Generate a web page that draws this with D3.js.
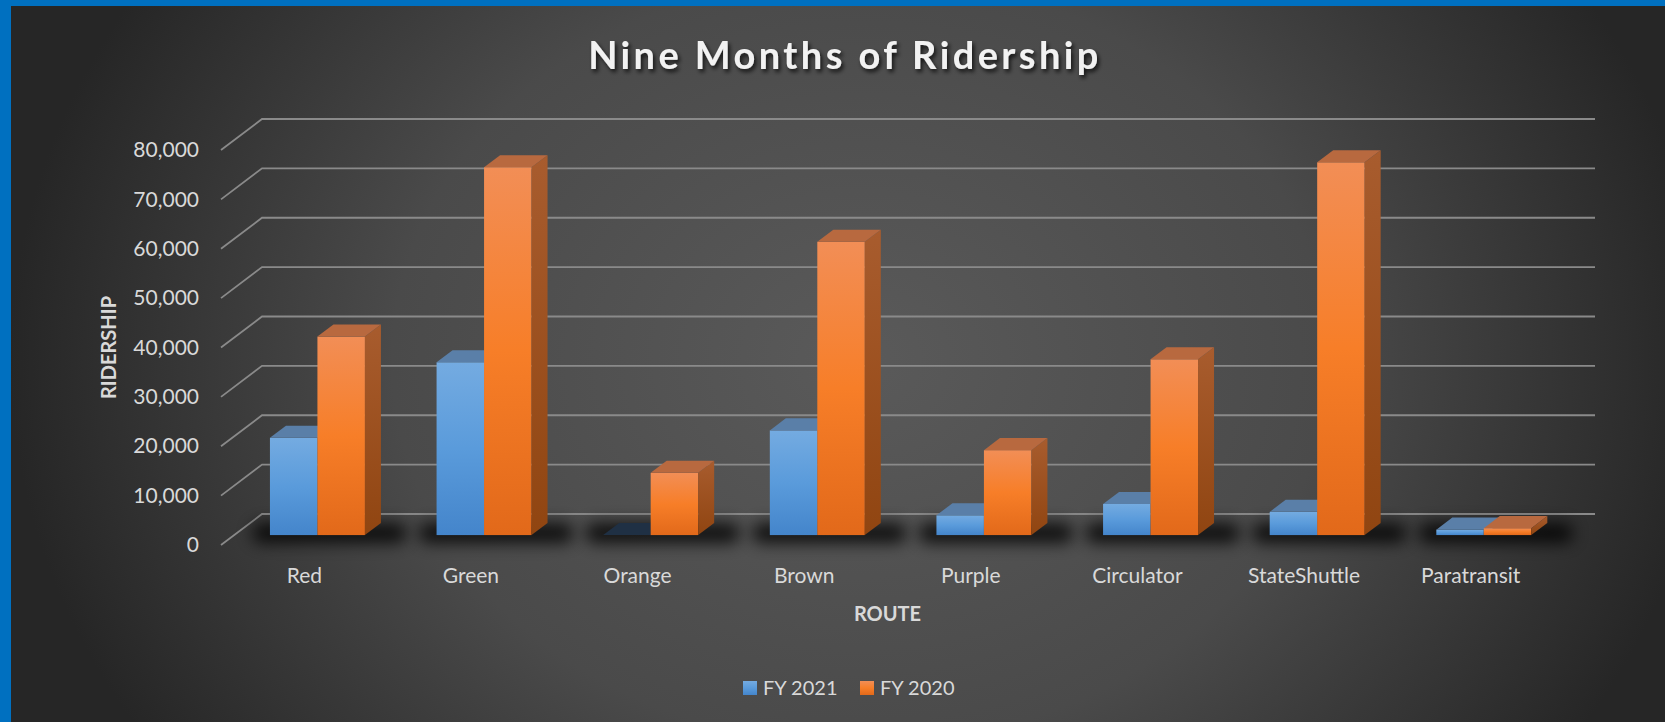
<!DOCTYPE html>
<html>
<head>
<meta charset="utf-8">
<script src="https://cdn.jsdelivr.net/npm/d3@7"></script>
<style>
  body { margin: 0; background: #0070c0; }
  svg { display: block; }
</style>
</head>
<body>
<div id="wrapper"></div>
<script>
// data
const routes = ["Red", "Green", "Orange", "Brown", "Purple", "Circulator", "StateShuttle", "Paratransit"]
const seriesNames = ["FY 2021", "FY 2020"]
const fy2021 = [19700, 35000, 0, 21200, 4000, 6300, 4700, 1100]
const fy2020 = [40200, 74500, 12600, 59400, 17200, 35600, 75500, 1400]
const yTicks = [0, 10000, 20000, 30000, 40000, 50000, 60000, 70000, 80000]

function drawChart() {

  // 1. dimensions
  const dimensions = {
    width: 1665,
    height: 722,
    front: { left: 221, right: 1554, bottom: 545, top: 150 },
    depth: { x: 41, y: -31 },   // front of floor -> back wall
  }
  const barDepthStart = 0.32
  const barDepth = 0.39
  const fontFamily = "Lato, 'Open Sans', sans-serif"
  const textColor = "#d9d9d9"

  // 2. canvas
  const wrapper = d3.select("#wrapper")
    .append("svg")
      .attr("width", dimensions.width)
      .attr("height", dimensions.height)

  const defs = wrapper.append("defs")

  const bg = defs.append("radialGradient")
      .attr("id", "bg")
      .attr("gradientUnits", "userSpaceOnUse")
      .attr("cx", 0).attr("cy", 0).attr("r", 1)
      .attr("gradientTransform", "translate(860,360) scale(850,700)")
  bg.append("stop").attr("offset", 0).attr("stop-color", "#5a5a5a")
  bg.append("stop").attr("offset", 0.55).attr("stop-color", "#4a4a4a")
  bg.append("stop").attr("offset", 1).attr("stop-color", "#262626")

  const addGradient = (id, stops) => {
    const g = defs.append("linearGradient")
        .attr("id", id)
        .attr("x1", 0).attr("y1", 0).attr("x2", 0).attr("y2", 1)
    stops.forEach(([o, c]) => g.append("stop").attr("offset", o).attr("stop-color", c))
  }
  addGradient("blueFront", [[0, "#74abe1"], [0.5, "#5a9bdb"], [1, "#4485cb"]])
  addGradient("orangeFront", [[0, "#f28e56"], [0.5, "#f77e28"], [1, "#e2691a"]])
  addGradient("orangeSide", [[0, "#a85c2e"], [1, "#904511"]])
  addGradient("blueSide", [[0, "#4f7fb3"], [1, "#3a6a9e"]])

  const shadowFilter = defs.append("filter")
      .attr("id", "floorShadow")
      .attr("x", "-50%").attr("y", "-150%").attr("width", "200%").attr("height", "400%")
  shadowFilter.append("feGaussianBlur").attr("stdDeviation", 8)

  const titleShadow = defs.append("filter").attr("id", "titleShadow")
  titleShadow.append("feDropShadow")
      .attr("dx", 2).attr("dy", 3).attr("stdDeviation", 2)
      .attr("flood-color", "#000").attr("flood-opacity", 0.75)

  wrapper.append("rect")
      .attr("x", 11).attr("y", 6)
      .attr("width", dimensions.width - 11)
      .attr("height", dimensions.height - 6)
      .attr("fill", "url(#bg)")

  // 3. scales
  const yScale = d3.scaleLinear()
    .domain([0, 80000])
    .range([dimensions.front.bottom, dimensions.front.top])

  const xScale = d3.scaleBand()
    .domain(routes)
    .range([dimensions.front.left, dimensions.front.right])

  const bw = xScale.bandwidth()
  const barW = bw * 0.285
  const seriesScale = d3.scaleBand()
    .domain(seriesNames)
    .range([bw / 2 - barW, bw / 2 + barW])

  const dx = dimensions.depth.x
  const dy = dimensions.depth.y

  // 4. gridlines (side wall + back wall)
  const grid = wrapper.append("g")
      .attr("fill", "none")
      .attr("stroke", "#8a8a8a")
      .attr("stroke-width", 1.8)

  grid.selectAll("path")
    .data(yTicks)
    .enter().append("path")
      .attr("d", d => `M${dimensions.front.left},${yScale(d)}`
        + `L${dimensions.front.left + dx},${yScale(d) + dy}`
        + `L${dimensions.front.right + dx},${yScale(d) + dy}`)

  // 5. bars
  const table = routes.map((r, i) => ({
    route: r,
    values: [
      { series: seriesNames[0], value: fy2021[i] },
      { series: seriesNames[1], value: fy2020[i] },
    ],
  }))

  const offX = dx * barDepthStart
  const offY = dy * barDepthStart
  const bdx = dx * barDepth
  const bdy = dy * barDepth

  const groups = wrapper.selectAll(".route")
    .data(table)
    .enter().append("g")
      .attr("class", "route")

  // floor shadow
  groups.append("rect")
      .attr("x", d => xScale(d.route) + offX + seriesScale(seriesNames[0]) - 18)
      .attr("y", yScale(0) + offY - 12)
      .attr("width", 2 * barW + bdx + 44)
      .attr("height", 20)
      .attr("rx", 10)
      .attr("fill", "#000")
      .attr("opacity", 0.8)
      .attr("filter", "url(#floorShadow)")

  const bars = groups.selectAll(".bar")
    .data(d => d.values.map(v => ({ ...v, route: d.route })))
    .enter().append("g")
      .attr("class", "bar")

  const x0 = d => xScale(d.route) + offX + seriesScale(d.series)
  const yTop = d => yScale(d.value) + offY
  const yBot = yScale(0) + offY
  const isBlue = d => d.series === seriesNames[0]

  bars.append("rect")
      .attr("x", x0)
      .attr("y", yTop)
      .attr("width", barW)
      .attr("height", d => yBot - yTop(d))
      .attr("fill", d => isBlue(d) ? "url(#blueFront)" : "url(#orangeFront)")

  bars.append("path")
      .attr("d", d => `M${x0(d) + barW},${yTop(d)}`
        + `L${x0(d) + barW + bdx},${yTop(d) + bdy}`
        + `L${x0(d) + barW + bdx},${yBot + bdy}`
        + `L${x0(d) + barW},${yBot}Z`)
      .attr("fill", d => isBlue(d) ? "url(#blueSide)" : "url(#orangeSide)")

  bars.append("path")
      .attr("d", d => `M${x0(d)},${yTop(d)}`
        + `L${x0(d) + bdx},${yTop(d) + bdy}`
        + `L${x0(d) + barW + bdx},${yTop(d) + bdy}`
        + `L${x0(d) + barW},${yTop(d)}Z`)
      .attr("fill", d => isBlue(d) ? (d.value === 0 ? "#1f3044" : "#5a7fa8") : "#b8693f")

  // 6. peripherals
  const yAxis = wrapper.append("g")
      .attr("transform", `translate(${dimensions.front.left},0)`)
    .call(d3.axisLeft(yScale).tickValues(yTicks).tickSize(0).tickPadding(22).tickFormat(d3.format(",")))
  yAxis.select(".domain").remove()
  yAxis.selectAll("text")
      .attr("font-family", fontFamily)
      .attr("font-size", 21)
      .attr("fill", textColor)

  const xAxis = wrapper.append("g")
      .attr("transform", `translate(0,${dimensions.front.bottom})`)
    .call(d3.axisBottom(xScale).tickSize(0).tickPadding(23))
  xAxis.select(".domain").remove()
  xAxis.selectAll("text")
      .attr("font-family", fontFamily)
      .attr("font-size", 21)
      .attr("fill", textColor)

  wrapper.append("text")
      .attr("x", (dimensions.front.left + dimensions.front.right) / 2)
      .attr("y", 621)
      .attr("text-anchor", "middle")
      .attr("font-family", fontFamily)
      .attr("font-weight", "bold")
      .attr("font-size", 20)
      .attr("fill", textColor)
      .text("ROUTE")

  wrapper.append("text")
      .attr("transform", `translate(116,${(yScale(0) + yScale(80000)) / 2}) rotate(-90)`)
      .attr("text-anchor", "middle")
      .attr("font-family", fontFamily)
      .attr("font-weight", "bold")
      .attr("font-size", 20)
      .attr("fill", textColor)
      .text("RIDERSHIP")

  wrapper.append("text")
      .attr("x", 845)
      .attr("y", 69)
      .attr("text-anchor", "middle")
      .attr("font-family", fontFamily)
      .attr("font-weight", "bold")
      .attr("font-size", 38)
      .attr("letter-spacing", 3.4)
      .attr("fill", "#f2f2f2")
      .attr("filter", "url(#titleShadow)")
      .text("Nine Months of Ridership")

  // legend
  const legendX = [743, 860]
  const legend = wrapper.selectAll(".legend")
    .data(seriesNames)
    .enter().append("g")
      .attr("class", "legend")
      .attr("transform", (d, i) => `translate(${legendX[i]},681)`)
  legend.append("rect")
      .attr("width", 14)
      .attr("height", 14)
      .attr("fill", (d, i) => i === 0 ? "url(#blueFront)" : "url(#orangeFront)")
  legend.append("text")
      .attr("x", 20)
      .attr("y", 14)
      .attr("font-family", fontFamily)
      .attr("font-size", 20)
      .attr("fill", textColor)
      .text(d => d)
}
drawChart()
</script>
</body>
</html>
